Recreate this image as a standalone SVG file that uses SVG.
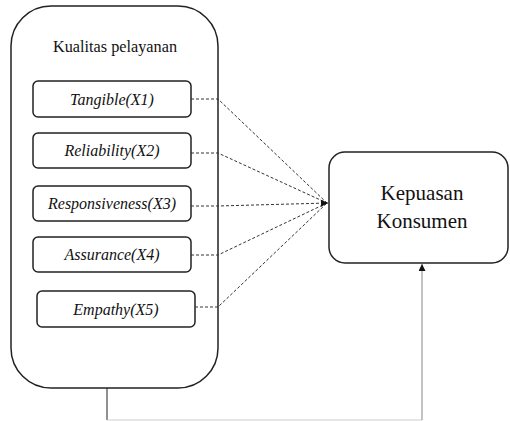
<svg xmlns="http://www.w3.org/2000/svg" width="510" height="421" viewBox="0 0 510 421">
<style>
text{font-family:"Liberation Serif","Times New Roman","DejaVu Serif",serif;fill:#111;text-anchor:middle}
.box{fill:#fff;stroke:#222;stroke-width:1.5}
.lbl{font-size:16px;font-style:italic}
.dash{fill:none;stroke:#333;stroke-width:1;stroke-dasharray:3,2}
</style>
<defs>
<marker id="ah" viewBox="0 0 10 10" refX="10" refY="5" markerWidth="8" markerHeight="7" orient="auto" markerUnits="userSpaceOnUse">
<path d="M0,0 L10,5 L0,10 z" fill="#111"/>
</marker>
</defs>
<rect width="510" height="421" fill="#fff"/>
<g id="kualitas">
<rect class="box" x="11" y="6" width="207" height="382" rx="40" ry="40"/>
<text x="115" y="52" font-size="17" textLength="124" lengthAdjust="spacingAndGlyphs">Kualitas pelayanan</text>
</g>
<g id="x1"><rect class="box" x="33" y="81" width="158" height="36" rx="5"/><text class="lbl" x="112" y="105">Tangible(X1)</text></g>
<g id="x2"><rect class="box" x="33" y="133" width="158" height="35" rx="5"/><text class="lbl" x="112" y="156">Reliability(X2)</text></g>
<g id="x3"><rect class="box" x="33" y="186" width="158" height="35" rx="5"/><text class="lbl" x="112" y="209">Responsiveness(X3)</text></g>
<g id="x4"><rect class="box" x="33" y="237" width="158" height="35" rx="5"/><text class="lbl" x="112" y="260">Assurance(X4)</text></g>
<g id="x5"><rect class="box" x="37" y="291" width="158" height="36" rx="5"/><text class="lbl" x="116" y="315">Empathy(X5)</text></g>
<g id="kepuasan">
<rect class="box" x="329" y="152" width="179" height="111" rx="16"/>
<text x="422" y="200" font-size="21">Kepuasan</text>
<text x="422" y="228" font-size="21">Konsumen</text>
</g>
<g id="connectors">
<path class="dash" d="M191,99 H218 L327,203"/>
<path class="dash" d="M191,153 H218 L327,203"/>
<path class="dash" d="M191,255 H218 L327,203"/>
<path class="dash" d="M195,307 H218 L327,203"/>
<path class="dash" d="M191,206 H218 L328,203" marker-end="url(#ah)"/>
<path d="M107,388 V420" fill="none" stroke="#222" stroke-width="1"/>
<path d="M107,420 H422" fill="none" stroke="#ccc" stroke-width="1"/>
<path d="M422,420 V264" fill="none" stroke="#999" stroke-width="1.2" marker-end="url(#ah)"/>
</g>
</svg>
